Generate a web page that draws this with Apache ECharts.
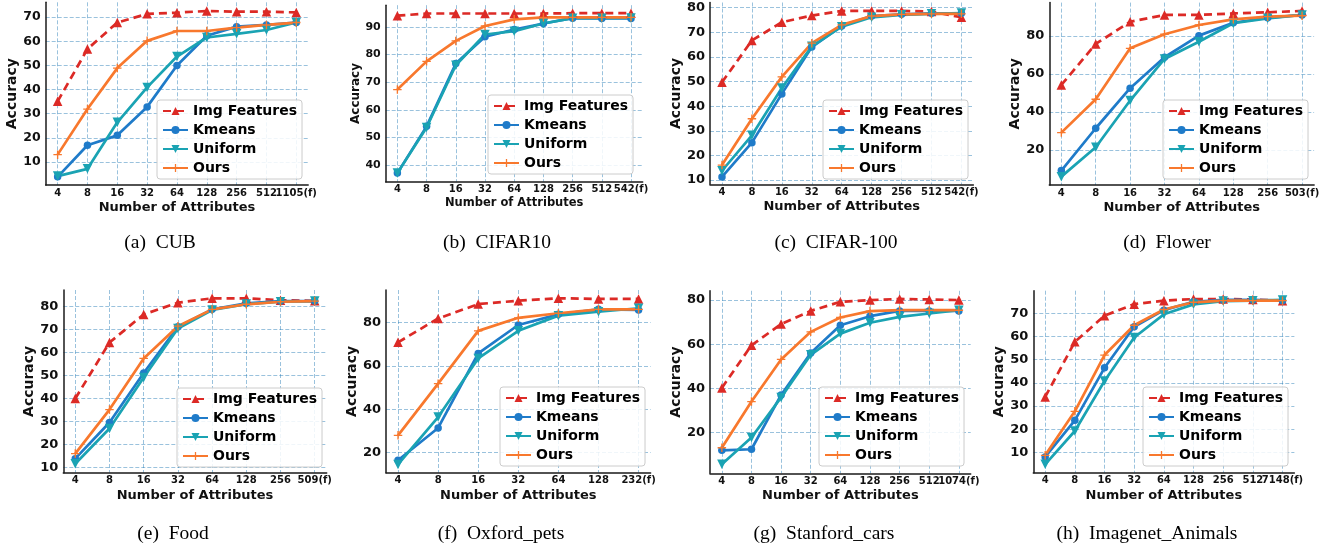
<!DOCTYPE html>
<html>
<head>
<meta charset="utf-8">
<title>Accuracy vs number of attributes</title>
<script src="https://cdn.jsdelivr.net/npm/echarts@6/dist/echarts.min.js"></script>
<style>
  html, body { margin: 0; padding: 0; background: #fff; }
  #chart { width: 1325px; height: 550px; }
</style>
</head>
<body>
<div id="chart"></div>
<script>
var seriesNames = ['Img Features', 'Kmeans', 'Uniform', 'Ours'];

// (a) CUB
var cubLabels  = ['4', '8', '16', '32', '64', '128', '256', '512', '1105(f)'];
var cubImg     = [35.1, 56.8, 67.8, 71.4, 71.9, 72.6, 72.3, 72.3, 72.0];
var cubKmeans  = [3.8, 16.9, 21.0, 32.8, 50.0, 62.3, 66.1, 66.8, 67.8];
var cubUniform = [4.1, 7.1, 26.4, 40.9, 53.7, 61.6, 63.1, 64.7, 67.8];
var cubOurs    = [13.0, 31.9, 48.9, 60.2, 64.3, 64.3, 65.7, 66.8, 67.8];

// (b) CIFAR10
var c10Labels  = ['4', '8', '16', '32', '64', '128', '256', '512', '542(f)'];
var c10Img     = [94.0, 94.8, 94.8, 94.8, 94.8, 94.8, 94.9, 94.9, 94.9];
var c10Kmeans  = [37.1, 54.0, 76.7, 86.4, 89.0, 91.2, 93.1, 93.0, 93.0];
var c10Uniform = [37.1, 53.6, 76.1, 87.2, 88.4, 91.2, 93.1, 93.1, 93.2];
var c10Ours    = [67.3, 77.5, 84.9, 90.3, 92.7, 93.4, 93.4, 93.4, 93.4];

// (c) CIFAR-100
var c100Labels  = ['4', '8', '16', '32', '64', '128', '256', '512', '542(f)'];
var c100Img     = [49.7, 66.7, 74.1, 76.8, 78.7, 78.7, 78.7, 78.4, 76.1];
var c100Kmeans  = [11.3, 25.2, 45.0, 64.0, 72.6, 76.6, 77.3, 77.7, 77.7];
var c100Uniform = [13.8, 28.2, 47.4, 64.3, 72.3, 76.1, 77.1, 77.5, 77.8];
var c100Ours    = [16.1, 34.9, 51.9, 65.6, 73.0, 76.6, 77.3, 77.5, 77.5];

// (d) Flower
var flowerLabels  = ['4', '8', '16', '32', '64', '128', '256', '503(f)'];
var flowerImg     = [54.2, 75.8, 87.5, 91.1, 91.1, 91.9, 92.5, 93.2];
var flowerKmeans  = [9.1, 31.4, 52.5, 68.8, 80.2, 87.0, 89.6, 91.1];
var flowerUniform = [5.9, 21.4, 46.0, 67.9, 77.0, 86.7, 89.3, 91.1];
var flowerOurs    = [29.1, 46.7, 73.5, 80.9, 85.8, 88.8, 90.2, 90.7];

// (e) Food
var foodLabels  = ['4', '8', '16', '32', '64', '128', '256', '509(f)'];
var foodImg     = [40.0, 64.3, 76.5, 81.6, 83.5, 83.5, 82.7, 82.4];
var foodKmeans  = [13.9, 29.6, 51.1, 71.1, 78.7, 81.3, 82.3, 82.3];
var foodUniform = [11.7, 27.0, 49.1, 70.4, 78.4, 81.0, 82.0, 82.3];
var foodOurs    = [16.1, 35.2, 57.4, 71.4, 78.7, 80.9, 82.0, 82.3];

// (f) Oxford_pets
var petsLabels  = ['4', '8', '16', '32', '64', '128', '232(f)'];
var petsImg     = [70.8, 81.8, 88.4, 90.0, 91.1, 90.8, 90.8];
var petsKmeans  = [16.5, 31.4, 65.7, 78.8, 83.7, 86.0, 85.7];
var petsUniform = [14.6, 36.4, 63.4, 76.1, 83.1, 84.9, 86.5];
var petsOurs    = [28.0, 51.8, 76.1, 82.1, 84.2, 86.0, 86.0];

// (g) Stanford_cars
var carsLabels  = ['4', '8', '16', '32', '64', '128', '256', '512', '1074(f)'];
var carsImg     = [40.2, 59.5, 69.1, 75.1, 79.2, 80.0, 80.5, 80.3, 80.0];
var carsKmeans  = [11.9, 12.4, 37.0, 56.0, 68.6, 72.7, 75.1, 75.1, 75.1];
var carsUniform = [5.6, 17.7, 35.9, 55.2, 64.8, 69.7, 72.4, 73.9, 75.4];
var carsOurs    = [13.1, 34.0, 53.1, 65.6, 72.1, 75.0, 75.4, 75.4, 75.4];

// (h) Imagenet_Animals
var animLabels  = ['4', '8', '16', '32', '64', '128', '256', '512', '7148(f)'];
var animImg     = [33.9, 57.7, 69.0, 74.0, 75.5, 76.2, 76.2, 76.0, 75.5];
var animKmeans  = [8.0, 23.8, 46.5, 64.2, 71.4, 75.0, 75.8, 75.8, 75.5];
var animUniform = [4.8, 19.2, 40.8, 59.6, 69.6, 73.9, 75.3, 75.5, 75.8];
var animOurs    = [8.7, 27.7, 52.0, 64.9, 71.7, 74.8, 75.5, 75.5, 75.5];

var captions = ['(a)  CUB', '(b)  CIFAR10', '(c)  CIFAR-100', '(d)  Flower',
                '(e)  Food', '(f)  Oxford_pets', '(g)  Stanford_cars', '(h)  Imagenet_Animals'];

var panels = [
  { labels: cubLabels,    values: [cubImg, cubKmeans, cubUniform, cubOurs] },
  { labels: c10Labels,    values: [c10Img, c10Kmeans, c10Uniform, c10Ours] },
  { labels: c100Labels,   values: [c100Img, c100Kmeans, c100Uniform, c100Ours] },
  { labels: flowerLabels, values: [flowerImg, flowerKmeans, flowerUniform, flowerOurs] },
  { labels: foodLabels,   values: [foodImg, foodKmeans, foodUniform, foodOurs] },
  { labels: petsLabels,   values: [petsImg, petsKmeans, petsUniform, petsOurs] },
  { labels: carsLabels,   values: [carsImg, carsKmeans, carsUniform, carsOurs] },
  { labels: animLabels,   values: [animImg, animKmeans, animUniform, animOurs] }
];

// positions of each sub plot (pixels) and y range
var layout = [
  { left: 45.7,   top: 2.3,   width: 262.5, height: 182.7, yMin: 0.4,  yMax: 76.2, step: 10, lgX: 157,  lgY: 100, capX: 160,  capY: 243, yFont: 12.5, nameFont: 13,   accFont: 14, accGap: 26, nameGap: 16 },
  { left: 385.7,  top: 5.2,   width: 257,   height: 176.5, yMin: 34.0, yMax: 97.8, step: 10, lgX: 488,  lgY: 95,  capX: 497,  capY: 243, yFont: 11,   nameFont: 11.5, accFont: 12, accGap: 21, nameGap: 15 },
  { left: 710,    top: 2.5,   width: 263.4, height: 181.8, yMin: 8.3,  yMax: 82.1, step: 10, lgX: 823,  lgY: 100, capX: 836,  capY: 243, yFont: 13,   nameFont: 13,   accFont: 14, accGap: 26, nameGap: 16 },
  { left: 1049.3, top: 2.6,   width: 264.8, height: 182.4, yMin: 1.5,  yMax: 97.6, step: 20, lgX: 1163, lgY: 100, capX: 1167, capY: 243, yFont: 13,   nameFont: 13,   accFont: 14, accGap: 26, nameGap: 16 },
  { left: 63.3,   top: 290,   width: 263.4, height: 182.7, yMin: 7.8,  yMax: 87.1, step: 10, lgX: 177,  lgY: 388, capX: 173,  capY: 534, yFont: 13,   nameFont: 13,   accFont: 14, accGap: 26, nameGap: 16 },
  { left: 386,    top: 290,   width: 264.6, height: 182.7, yMin: 10.8, yMax: 94.9, step: 20, lgX: 500,  lgY: 387, capX: 501,  capY: 534, yFont: 13,   nameFont: 13,   accFont: 14, accGap: 26, nameGap: 16 },
  { left: 710,    top: 290.8, width: 260.7, height: 182.5, yMin: 1.5,  yMax: 84.2, step: 20, lgX: 819,  lgY: 387, capX: 824,  capY: 534, yFont: 13,   nameFont: 13,   accFont: 14, accGap: 26, nameGap: 16 },
  { left: 1033.3, top: 290.7, width: 261.1, height: 182,   yMin: 1.2,  yMax: 79.8, step: 10, lgX: 1143, lgY: 387, capX: 1147, capY: 534, yFont: 13,   nameFont: 13,   accFont: 14, accGap: 26, nameGap: 16 }
];

var plusPath = 'path://M4.2,0H5.8V4.2H10V5.8H5.8V10H4.2V5.8H0V4.2H4.2Z';
var styles = [
  { color: '#dc2a26', symbol: 'triangle', size: 9.5, rotate: 0,   dash: [8, 5] },
  { color: '#1f7bc9', symbol: 'circle',   size: 7.5, rotate: 0,   dash: 'solid' },
  { color: '#1aa3b3', symbol: 'triangle', size: 9.5, rotate: 180, dash: 'solid' },
  { color: '#f8782d', symbol: plusPath,   size: 8.5, rotate: 0,   dash: 'solid' }
];

var font = 'DejaVu Sans';
var gridColor = 'rgba(31,119,180,0.45)';
var axisColor = '#1a1a1a';

var grids = [], xAxes = [], yAxes = [], legends = [], series = [], graphics = [];

panels.forEach(function (p, i) {
  var L = layout[i];
  var n = p.labels.length;
  var pad = 0.05 * (n - 1);
  grids.push({ left: L.left, top: L.top, width: L.width, height: L.height });

  xAxes.push({
    type: 'value', gridIndex: i, min: -pad, max: n - 1 + pad, minInterval: 1, maxInterval: 1,
    axisLine: { show: true, onZero: false, lineStyle: { color: axisColor, width: 1.5 } },
    axisTick: { show: false },
    axisLabel: {
      showMinLabel: false, showMaxLabel: false, margin: 3,
      fontFamily: font, fontWeight: 'bold', fontSize: 10, color: '#111',
      formatter: function (v) {
        var k = Math.round(v);
        return Math.abs(v - k) < 1e-6 && p.labels[k] !== undefined ? p.labels[k] : '';
      }
    },
    splitLine: { show: true, showMinLine: false, showMaxLine: false, lineStyle: { color: gridColor, type: [4, 2], width: 1 } },
    name: 'Number of Attributes', nameLocation: 'middle', nameGap: L.nameGap,
    nameTextStyle: { fontFamily: font, fontWeight: 'bold', fontSize: L.nameFont, color: '#111' }
  });

  yAxes.push({
    type: 'value', gridIndex: i, min: L.yMin, max: L.yMax, minInterval: L.step, maxInterval: L.step,
    axisLine: { show: true, onZero: false, lineStyle: { color: axisColor, width: 1.5 } },
    axisTick: { show: false },
    axisLabel: {
      showMinLabel: false, showMaxLabel: false, margin: 5,
      fontFamily: font, fontWeight: 'bold', fontSize: L.yFont, color: '#111',
      formatter: function (v) {
        var k = Math.round(v / L.step) * L.step;
        return Math.abs(v - k) < 1e-6 ? String(k) : '';
      }
    },
    splitLine: { show: true, showMinLine: false, showMaxLine: false, lineStyle: { color: gridColor, type: [4, 2], width: 1 } },
    name: 'Accuracy', nameLocation: 'middle', nameGap: L.accGap,
    nameTextStyle: { fontFamily: font, fontWeight: 'bold', fontSize: L.accFont, color: '#111' }
  });

  legends.push({
    orient: 'vertical', left: L.lgX, top: L.lgY, data: seriesNames,
    itemWidth: 25, itemHeight: 10, itemGap: 5, padding: [4, 5, 4, 5],
    backgroundColor: 'rgba(255,255,255,0.85)', borderColor: '#cccccc', borderWidth: 1, borderRadius: 3,
    selectedMode: false,
    textStyle: { fontFamily: font, fontWeight: 'bold', fontSize: 14, lineHeight: 14, color: '#000' }
  });

  p.values.forEach(function (vals, s) {
    var st = styles[s];
    series.push({
      type: 'line', name: seriesNames[s], xAxisIndex: i, yAxisIndex: i,
      data: vals.map(function (v, k) { return [k, v]; }),
      symbol: st.symbol, symbolSize: st.size, symbolRotate: st.rotate,
      lineStyle: { color: st.color, width: 2.7, type: st.dash },
      itemStyle: { color: st.color },
      silent: true, emphasis: { disabled: true }
    });
  });

  graphics.push({
    type: 'text', x: L.capX, y: L.capY,
    style: {
      text: captions[i], font: '19.5px "Liberation Serif"', fill: '#000',
      align: 'center', verticalAlign: 'middle', textAlign: 'center', textVerticalAlign: 'middle'
    }
  });
});

var chart = echarts.init(document.getElementById('chart'));
chart.setOption({
  animation: false,
  backgroundColor: '#ffffff',
  grid: grids,
  xAxis: xAxes,
  yAxis: yAxes,
  legend: legends,
  series: series,
  graphic: graphics
});
</script>
</body>
</html>
